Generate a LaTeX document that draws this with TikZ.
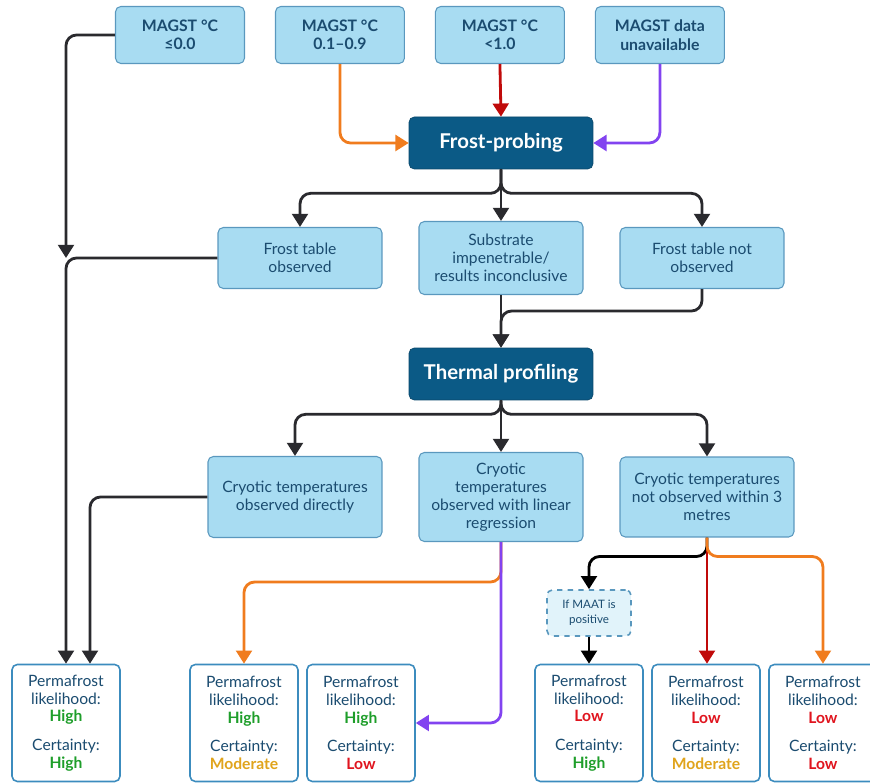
\documentclass[tikz,border=0pt]{standalone}
\usepackage{fontspec}
\setmainfont{Lato}
\usetikzlibrary{arrows.meta,calc,positioning}
\definecolor{ink}{HTML}{1B4C70}
\definecolor{boxfill}{HTML}{A8DCF2}
\definecolor{boxline}{HTML}{5A98BE}
\definecolor{deep}{HTML}{0B5A86}
\definecolor{resline}{HTML}{3C8CBE}
\definecolor{wire}{HTML}{2A2A2E}
\definecolor{worange}{HTML}{F07C1E}
\definecolor{wred}{HTML}{C00A0A}
\definecolor{wpurple}{HTML}{8243F0}
\definecolor{hi}{HTML}{1E9E2A}
\definecolor{mid}{HTML}{E0A41C}
\definecolor{lo}{HTML}{E0141E}
\newcommand{\rating}[2]{{\bfseries\color{#1}#2}}
\tikzstyle{cond}  =[draw=boxline, fill=boxfill, rounded corners=3pt,
                    line width=0.6pt, inner sep=2pt]
\tikzstyle{magst} =[cond, minimum width=2.58cm, minimum height=1.14cm,
                    font=\fontsize{9}{10.5}\selectfont\bfseries]
\tikzstyle{stage} =[draw=deep!80!black, fill=deep, rounded corners=3pt,
                    text=white, minimum width=3.68cm, minimum height=1.04cm,
                    font=\fontsize{11.6}{13}\selectfont\bfseries]
\tikzstyle{result}=[draw=resline, fill=white, rounded corners=3pt,
                    line width=0.9pt, minimum width=2.16cm,
                    minimum height=2.34cm]
\tikzstyle{conn}  =[line width=1.6pt, rounded corners=6pt,
                    -{Triangle[length=7.5pt,width=9pt]}]

\begin{document}
\begin{tikzpicture}[x=0.02cm, y=-0.02cm, node distance=3.2cm, on grid,
    every node/.style={font=\fontsize{8.9}{10.2}\selectfont, text=ink,
                       align=center}]
\useasboundingbox (0,0) rectangle (870,783);

% MAGST classes
\node[magst] (m0) at (180,35) {MAGST °C\\≤0.0};
\node[magst] (m1) [right=of m0] {MAGST °C\\0.1–0.9};
\node[magst] (m2) [right=of m1] {MAGST °C\\<1.0};
\node[magst] (m3) [right=of m2] {MAGST data\\unavailable};

\node[stage] (fp) at (501,143) {Frost-probing};

\node[cond, minimum width=3.28cm, minimum height=1.22cm] (fto) at (300,258)
    {Frost table\\observed};
\node[cond, minimum width=3.28cm, minimum height=1.46cm] (sub) at (501,258)
    {Substrate\\impenetrable/\\results inconclusive};
\node[cond, minimum width=3.28cm, minimum height=1.22cm] (ftn) at (702,258)
    {Frost table not\\observed};

\node[stage] (tp) at (501,374) {Thermal profiling};

\node[cond, minimum width=3.48cm, minimum height=1.62cm] (cd) at (295,497)
    {Cryotic temperatures\\observed directly};
\node[cond, minimum width=3.28cm, minimum height=1.78cm] (cl) at (501,497)
    {Cryotic\\temperatures\\observed with linear\\regression};
\node[cond, minimum width=3.48cm, minimum height=1.6cm] (cn) at (707,497)
    {Cryotic temperatures\\not observed within 3\\metres};

\node[draw=boxline, fill=boxfill!35, dashed, rounded corners=3pt,
      line width=0.9pt, minimum width=1.68cm, minimum height=0.92cm,
      font=\fontsize{6.6}{8.8}\selectfont] (maat) at (589,613)
    {If MAAT is\\positive};

% outcomes
\node[result] (b1) at (66,723)
    {Permafrost\\likelihood:\\\rating{hi}{High}\\[6pt]Certainty:\\\rating{hi}{High}};
\node[result] (b2) at (244,723)
    {Permafrost\\likelihood:\\\rating{hi}{High}\\[6pt]Certainty:\\\rating{mid}{Moderate}};
\node[result] (b3) [right=2.34cm of b2]
    {Permafrost\\likelihood:\\\rating{hi}{High}\\[6pt]Certainty:\\\rating{lo}{Low}};
\node[result] (b4) at (589,723)
    {Permafrost\\likelihood:\\\rating{lo}{Low}\\[6pt]Certainty:\\\rating{hi}{High}};
\node[result] (b5) [right=2.34cm of b4]
    {Permafrost\\likelihood:\\\rating{lo}{Low}\\[6pt]Certainty:\\\rating{mid}{Moderate}};
\node[result] (b6) [right=2.34cm of b5]
    {Permafrost\\likelihood:\\\rating{lo}{Low}\\[6pt]Certainty:\\\rating{lo}{Low}};

\coordinate (join) at (66,258);

% into frost-probing
\draw[conn, draw=wire] (m0.west) -| (join);
\draw[conn, draw=worange] (m1.south) |- (fp.west);
\draw[conn, draw=wred] (m2.south) -- (fp.north);
\draw[conn, draw=wpurple] (m3.south) |- (fp.east);

% frost-probing results
\draw[conn, draw=wire] (fp.south) -- ++(0,24) -| (fto.north);
\draw[conn, draw=wire] (fp.south) -- (sub.north);
\draw[conn, draw=wire] (fp.south) -- ++(0,24) -| (ftn.north);
\draw[conn, draw=wire] (fto.west) -| (b1.north);
\draw[conn, draw=wire] (sub.south) -- (tp.north);
\draw[conn, draw=wire] (ftn.south) -- ++(0,22) -| (tp.north);

% thermal profiling results
\draw[conn, draw=wire] (tp.south) -- ++(0,14) -| (cd.north);
\draw[conn, draw=wire] (tp.south) -- (cl.north);
\draw[conn, draw=wire] (tp.south) -- ++(0,14) -| (cn.north);
\draw[conn, draw=wire] (cd.west) -| ($(b1.north)+(24,0)$);
\draw[conn, draw=worange] (cl.south) -- ++(0,40) -| (b2.north);
\draw[conn, draw=wpurple] (cl.south) |- (b3.east);
\draw[conn, draw=black] (cn.south) -- ++(0,19) -| (maat.north);
\draw[conn, draw=wred] (cn.south) -- (cn.south |- b5.north);
\draw[conn, draw=worange] (cn.south) -- ++(0,19) -| (b6.north);
\draw[conn, draw=black] (maat.south) -- (b4.north);

\end{tikzpicture}
\end{document}
